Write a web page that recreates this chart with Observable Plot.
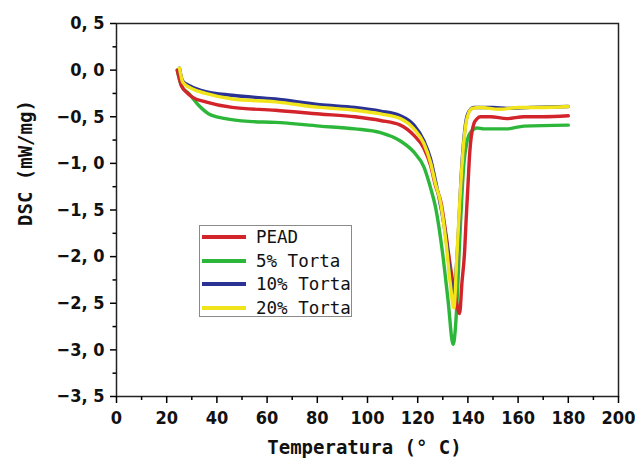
<!DOCTYPE html>
<html>
<head>
<meta charset="utf-8">
<script src="https://cdn.jsdelivr.net/npm/d3@7"></script>
<script src="https://cdn.jsdelivr.net/npm/@observablehq/plot@0.6"></script>
<style>
  html, body { margin: 0; padding: 0; background: #fff; }
  #wrap { position: relative; width: 635px; height: 461px; }
  #legend { position: absolute; left: 199px; top: 225px; width: 153px; height: 92px;
    border: 1.5px solid #8a8a8a; background: #fff; font-family: "DejaVu Sans Mono", monospace;
    font-size: 17.5px; color: #111; box-sizing: border-box; }
  .row { position: absolute; left: 0; height: 20px; display: flex; align-items: center; }
  .sw { width: 44px; height: 4px; margin-left: 2px; margin-right: 10px; }
</style>
</head>
<body>
<div id="wrap"></div>
<script>
const seriesNames = ["PEAD", "5% Torta", "10% Torta", "20% Torta"];
const seriesColors = ["#d3242b", "#2db73a", "#2a3393", "#f2e41a"];

const peadT = [24.2, 25.9, 28, 30.2, 35.5, 46.1, 63.3, 81, 95, 105.2, 113.1, 118.5, 122.5, 125.1, 127.1, 129.3, 131.2, 133, 135.1, 136.7, 137.6, 138.7, 139.3, 140, 140.7, 141.3, 142.3, 143.7, 145, 149, 155.6, 162.3, 170, 180];
const peadV = [0, -0.17, -0.24, -0.29, -0.34, -0.40, -0.43, -0.47, -0.50, -0.54, -0.59, -0.70, -0.84, -1.02, -1.24, -1.42, -1.75, -2.10, -2.44, -2.61, -2.29, -1.94, -1.60, -1.25, -0.90, -0.72, -0.58, -0.52, -0.50, -0.50, -0.52, -0.50, -0.50, -0.49];

const t5T = [24.2, 25.9, 28.8, 32.8, 36.8, 43.4, 52.7, 63.3, 81, 95, 105.2, 113.1, 118.5, 122.5, 125.1, 127.1, 129.8, 132.1, 134.1, 135.7, 136.6, 137.5, 138.4, 139.4, 141, 143.7, 146.3, 155.6, 162.3, 180];
const t5V = [0, -0.17, -0.25, -0.38, -0.47, -0.52, -0.55, -0.56, -0.60, -0.63, -0.67, -0.76, -0.88, -1.04, -1.26, -1.47, -1.94, -2.47, -2.94, -2.47, -1.90, -1.40, -1.00, -0.80, -0.67, -0.62, -0.63, -0.63, -0.60, -0.59];

const t10T = [25.1, 26.4, 30.1, 35.5, 46.1, 63.3, 81, 95, 105.2, 113.1, 118.5, 122.5, 125.1, 127.1, 129.1, 131.5, 133, 134.4, 135.2, 136.3, 137.2, 138.2, 139.2, 140.5, 142.5, 150, 155.6, 165, 180];
const t10V = [0.02, -0.12, -0.18, -0.23, -0.27, -0.31, -0.37, -0.40, -0.44, -0.49, -0.59, -0.76, -0.95, -1.19, -1.45, -1.85, -2.22, -2.45, -2.20, -1.70, -1.20, -0.80, -0.55, -0.44, -0.40, -0.40, -0.41, -0.40, -0.39];

const t20T = [25.1, 26.4, 30.1, 35.5, 46.1, 63.3, 81, 95, 105.2, 113.1, 118.5, 122.5, 125.1, 127.1, 129.1, 131.3, 133, 134.4, 135.6, 137, 138.4, 139.7, 141.7, 145, 152.4, 160.4, 168.4, 180];
const t20V = [0.02, -0.13, -0.20, -0.25, -0.31, -0.34, -0.40, -0.43, -0.47, -0.52, -0.63, -0.79, -0.99, -1.22, -1.42, -1.85, -2.29, -2.55, -2.01, -1.30, -0.76, -0.51, -0.41, -0.40, -0.42, -0.40, -0.40, -0.39];

const xTicks = [0, 20, 40, 60, 80, 100, 120, 140, 160, 180, 200];
const xMinor = [10, 30, 50, 70, 90, 110, 130, 150, 170, 190];
const yTicks = [0.5, 0, -0.5, -1, -1.5, -2, -2.5, -3, -3.5];
const yMinor = [0.25, -0.25, -0.75, -1.25, -1.75, -2.25, -2.75, -3.25];

const xs = [peadT, t5T, t10T, t20T];
const ys = [peadV, t5V, t10V, t20V];
const data = seriesNames.flatMap((s, i) => xs[i].map((t, j) => ({series: s, t, v: ys[i][j]})));
const drawOrder = ["5% Torta", "PEAD", "10% Torta", "20% Torta"];

const fmtY = d => (d < 0 ? "\u2212" : "") + Math.abs(d).toFixed(1).replace(".", ", ");
const tickFont = {fontFamily: "DejaVu Sans Condensed, DejaVu Sans, sans-serif", fontWeight: "bold", fontSize: 18, fill: "#111"};

const chart = Plot.plot({
  width: 635,
  height: 461,
  marginLeft: 116,
  marginRight: 17,
  marginTop: 23,
  marginBottom: 65,
  style: {background: "#fff", overflow: "visible"},
  x: {domain: [0, 200]},
  y: {domain: [-3.5, 0.5]},
  color: {domain: seriesNames, range: seriesColors},
  marks: [
    ...drawOrder.map(s => Plot.line(data.filter(d => d.series === s), {
      x: "t", y: "v", stroke: "series", strokeWidth: 3.4, curve: "monotone-x"
    })),
    Plot.frame({stroke: "#222", strokeWidth: 1.5}),
    Plot.axisX({ticks: xTicks, tickSize: 7, tickPadding: 8, tickFormat: d => String(d), strokeWidth: 1.5, label: null, ...tickFont}),
    Plot.axisX({ticks: xMinor, tickSize: 4, tickFormat: () => "", strokeWidth: 1.5, label: null}),
    Plot.axisY({ticks: yTicks, tickSize: 6, tickPadding: 6, tickFormat: fmtY, strokeWidth: 1.5, label: null, ...tickFont}),
    Plot.axisY({ticks: yMinor, tickSize: 3.5, tickFormat: () => "", strokeWidth: 1.5, label: null}),
    Plot.text(["DSC (mW/mg)"], {frameAnchor: "left", dx: -91, dy: 16, rotate: -90,
      fontFamily: "DejaVu Sans Mono, monospace", fontWeight: "bold", fontSize: 19, fill: "#111"}),
    Plot.text(["Temperatura (\u00b0 C)"], {frameAnchor: "bottom", dy: 57, dx: -3,
      fontFamily: "DejaVu Sans Mono, monospace", fontWeight: "bold", fontSize: 19, fill: "#111"})
  ]
});

const wrap = document.getElementById("wrap");
wrap.appendChild(chart);

const legend = document.createElement("div");
legend.id = "legend";
const rowTops = [1, 25, 48, 72];
seriesNames.forEach((s, i) => {
  const row = document.createElement("div");
  row.className = "row";
  row.style.top = rowTops[i] + "px";
  const sw = document.createElement("div");
  sw.className = "sw";
  sw.style.background = seriesColors[i];
  const lab = document.createElement("span");
  lab.textContent = s;
  row.appendChild(sw);
  row.appendChild(lab);
  legend.appendChild(row);
});
wrap.appendChild(legend);
</script>
</body>
</html>
